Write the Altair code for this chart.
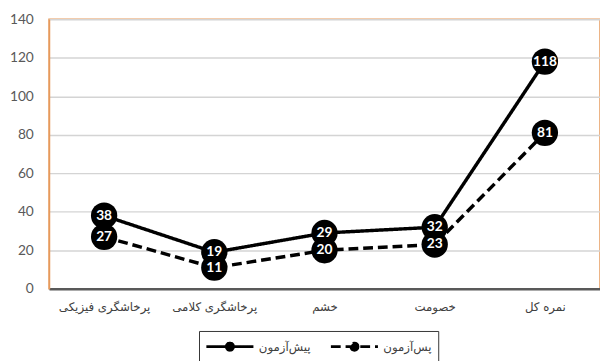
import altair as alt
import pandas as pd

categories = ["پرخاشگری فیزیکی", "پرخاشگری کلامی", "خشم", "خصومت", "نمره کل"]
series_names = ["پیش‌آزمون", "پس‌آزمون"]
pre_test = [38, 19, 29, 32, 118]
post_test = [27, 11, 20, 23, 81]
y_ticks = [0, 20, 40, 60, 80, 100, 120, 140]

rows = []
for c, v in zip(categories, pre_test):
    rows.append({"cat": c, "series": series_names[0], "value": v})
for c, v in zip(categories, post_test):
    rows.append({"cat": c, "series": series_names[1], "value": v})
df = pd.DataFrame(rows)

x = alt.X("cat:N", sort=categories, title=None,
          scale=alt.Scale(type="point", padding=0.5),
          axis=alt.Axis(labelAngle=0, ticks=False, labelPadding=13, labelFontSize=12,
                        labelFont="DejaVu Sans", labelColor="#404040",
                        domainColor="#595959", domainWidth=2.5, grid=False))
y = alt.Y("value:Q", title=None,
          scale=alt.Scale(domain=[0, 140], nice=False),
          axis=alt.Axis(values=y_ticks, ticks=False, labelPadding=16, labelFontSize=14,
                        labelFont="Lato", labelColor="#595959",
                        domainColor="#E69A5C", domainWidth=1.5,
                        gridColor="#d4d4d4", gridWidth=1.5))

legend_path = "M-1,0L5,0M2.45,0A0.45,0.45 0 1,1 1.55,0A0.45,0.45 0 1,1 2.45,0Z"

lines = alt.Chart(df).mark_line(color="black", strokeWidth=3.5).encode(
    x=x, y=y,
    strokeDash=alt.StrokeDash(
        "series:N", title=None,
        scale=alt.Scale(domain=series_names, range=[[1, 0], [10, 5]]),
        legend=alt.Legend(orient="none", legendX=153, legendY=318, direction="horizontal",
                          columns=2, symbolType=legend_path, symbolSize=256,
                          symbolStrokeColor="black", symbolFillColor="black",
                          symbolStrokeWidth=3, labelFont="DejaVu Sans", labelFontSize=12,
                          labelColor="#404040", padding=6, strokeColor="#333333",
                          columnPadding=14, labelOffset=36)),
    detail="series:N",
)

points = alt.Chart(df).mark_circle(color="black", opacity=1, size=720).encode(x=x, y=y)

labels = alt.Chart(df).mark_text(color="white", fontWeight="bold", fontSize=14,
                                 font="Lato", baseline="middle", align="center").encode(
    x=x, y=y, text="value:Q")

chart = alt.layer(lines, points, labels).properties(
    width=562, height=275,
    padding={"left": 50, "top": 16, "right": 0, "bottom": 70},
    autosize="none",
).configure_view(stroke="#E69A5C", strokeWidth=1.5)

chart.save("out.html", embed_options={"renderer": "svg", "actions": False})
